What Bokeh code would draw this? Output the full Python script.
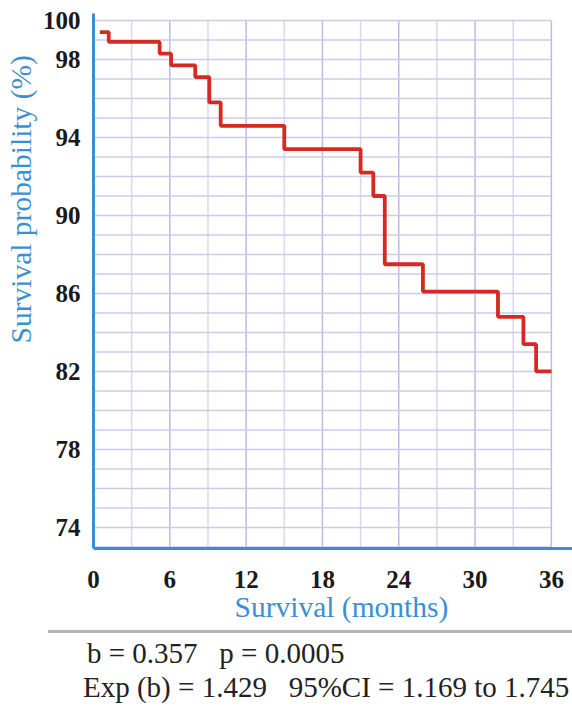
from bokeh.plotting import figure
from bokeh.models import Range1d, FixedTicker, Title, Div
from bokeh.layouts import column
from bokeh.embed import file_html
from bokeh.resources import INLINE

# ---- data ----
time_months = [0.5, 1.2, 5.2, 6.1, 8.0, 9.1, 10.0, 15.0, 21.0, 22.0, 22.9, 25.9, 31.8, 33.8, 34.8, 36.0]
survival_pct = [99.4, 98.9, 98.3, 97.7, 97.1, 95.8, 94.6, 93.4, 92.2, 91.0, 87.5, 86.1, 84.8, 83.4, 82.0, 82.0]

x_ticks = [0, 6, 12, 18, 24, 30, 36]
y_ticks = [74, 78, 82, 86, 90, 94, 98, 100]
grid_x_minor = [3, 9, 15, 21, 27, 33]
grid_x_major = [6, 12, 18, 24, 30, 36]
grid_y = list(range(73, 101))

x_title = "Survival (months)"
y_title = "Survival probability (%)"
stat_line1 = "b = 0.357   p = 0.0005"
stat_line2 = "Exp (b) = 1.429   95%CI = 1.169 to 1.745"

BLUE = "#3b8fd0"
RED = "#d42a22"
SERIF = "Liberation Serif"

p = figure(width=572, height=630, output_backend="svg", toolbar_location=None,
           x_range=Range1d(0, 37.66), y_range=Range1d(72.92, 100.36),
           min_border_left=93, min_border_right=0, min_border_top=13, min_border_bottom=82)
p.outline_line_color = None
p.xgrid.visible = False
p.ygrid.visible = False

# grid lines (bounded to 0..36 / 73..100)
y_lo, y_hi = grid_y[0], grid_y[-1]
x_lo, x_hi = x_ticks[0], x_ticks[-1]
p.segment(x0=grid_x_minor, y0=[y_lo] * len(grid_x_minor), x1=grid_x_minor, y1=[y_hi] * len(grid_x_minor),
          line_color="#d8d6f0", line_width=1.5)
p.segment(x0=grid_x_major, y0=[y_lo] * len(grid_x_major), x1=grid_x_major, y1=[y_hi] * len(grid_x_major),
          line_color="#bdbae3", line_width=1.5)
p.segment(x0=[x_lo] * len(grid_y), y0=grid_y, x1=[x_hi] * len(grid_y), y1=grid_y,
          line_color="#cdcbec", line_width=1.5)

# survival curve
p.step(time_months, survival_pct, mode="after", line_color=RED, line_width=3.8)

# axes
for ax in (p.xaxis[0], p.yaxis[0]):
    ax.axis_line_color = BLUE
    ax.axis_line_width = 3
    ax.major_tick_line_color = None
    ax.minor_tick_line_color = None
    ax.major_tick_out = 0
    ax.major_tick_in = 0
    ax.minor_tick_out = 0
    ax.major_label_text_font = SERIF
    ax.major_label_text_font_style = "bold"
    ax.major_label_text_font_size = "25px"
    ax.major_label_text_color = "#1a1a1a"

p.xaxis.ticker = FixedTicker(ticks=x_ticks)
p.yaxis.ticker = FixedTicker(ticks=y_ticks)
p.xaxis.major_label_standoff = 22
p.yaxis.major_label_standoff = 13

# axis titles (off-centre as in the reference)
p.add_layout(Title(text=x_title, align="left", offset=141, vertical_align="top", standoff=0,
                   text_font=SERIF, text_font_style="normal", text_font_size="29.5px",
                   text_color=BLUE), "below")
p.add_layout(Title(text=y_title, align="left", offset=205, vertical_align="bottom", standoff=5,
                   text_font=SERIF, text_font_style="normal", text_font_size="29.5px",
                   text_color=BLUE), "left")

# separator and statistics below the chart
stats_html = (
    '<div style="margin-left:48px;width:524px;border-top:3px solid #b4b4b4;'
    "font-family:'Liberation Serif',serif;font-size:29px;line-height:34px;"
    'color:#222222;padding-top:3px;white-space:pre;">'
    f'<div style="padding-left:39px;">{stat_line1}</div>'
    f'<div style="padding-left:35px;">{stat_line2}</div>'
    '</div>'
)
stats = Div(text=stats_html, width=572, height=77, margin=(0, 0, 0, 0))

layout = column(p, stats, spacing=0)
open("out.html", "w").write(file_html(layout, INLINE))
